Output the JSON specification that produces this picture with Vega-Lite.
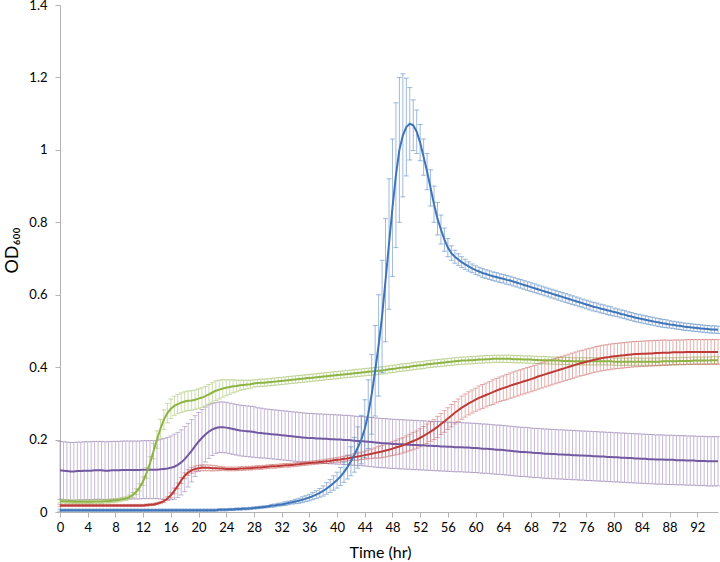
{
"$schema": "https://vega.github.io/schema/vega-lite/v6.json",
"width": 658, "height": 507,
"autosize": {"type": "none"},
"padding": {"left": 60, "top": 5, "right": 2, "bottom": 50},
"background": "white",
"config": {"view": {"stroke": null}, "font": "Lato",
 "axis": {"grid": false, "domainColor": "#B3B3B3", "tickColor": "#B3B3B3", "labelColor": "#000000", "labelFontSize": 13, "titleFontSize": 15, "titleFontWeight": "normal", "titleColor": "#000000", "labelFont": "Lato", "titleFont": "Lato"}},
"data": {"values": [
{"t":0,"b":0.005,"be":0.003,"r":0.018,"re":0.003,"g":0.030,"ge":0.005,"p":0.115,"pe":0.08},
{"t":0.5,"b":0.005,"be":0.003,"r":0.018,"re":0.003,"g":0.030,"ge":0.005,"p":0.114,"pe":0.08},
{"t":1,"b":0.005,"be":0.003,"r":0.018,"re":0.003,"g":0.029,"ge":0.005,"p":0.113,"pe":0.08},
{"t":1.5,"b":0.005,"be":0.003,"r":0.018,"re":0.003,"g":0.029,"ge":0.005,"p":0.112,"pe":0.08},
{"t":2,"b":0.005,"be":0.003,"r":0.018,"re":0.003,"g":0.028,"ge":0.005,"p":0.112,"pe":0.08},
{"t":2.5,"b":0.005,"be":0.003,"r":0.018,"re":0.003,"g":0.028,"ge":0.005,"p":0.113,"pe":0.08},
{"t":3,"b":0.005,"be":0.003,"r":0.018,"re":0.003,"g":0.028,"ge":0.005,"p":0.113,"pe":0.08},
{"t":3.5,"b":0.005,"be":0.003,"r":0.018,"re":0.003,"g":0.028,"ge":0.005,"p":0.114,"pe":0.08},
{"t":4,"b":0.005,"be":0.003,"r":0.018,"re":0.003,"g":0.028,"ge":0.005,"p":0.114,"pe":0.08},
{"t":4.5,"b":0.005,"be":0.003,"r":0.018,"re":0.003,"g":0.028,"ge":0.005,"p":0.114,"pe":0.08},
{"t":5,"b":0.005,"be":0.003,"r":0.018,"re":0.003,"g":0.029,"ge":0.005,"p":0.115,"pe":0.08},
{"t":5.5,"b":0.005,"be":0.003,"r":0.018,"re":0.003,"g":0.029,"ge":0.005,"p":0.115,"pe":0.08},
{"t":6,"b":0.005,"be":0.003,"r":0.018,"re":0.003,"g":0.029,"ge":0.005,"p":0.115,"pe":0.08},
{"t":6.5,"b":0.005,"be":0.003,"r":0.018,"re":0.003,"g":0.030,"ge":0.005,"p":0.114,"pe":0.08},
{"t":7,"b":0.005,"be":0.003,"r":0.018,"re":0.003,"g":0.030,"ge":0.005,"p":0.114,"pe":0.08},
{"t":7.5,"b":0.005,"be":0.003,"r":0.018,"re":0.003,"g":0.031,"ge":0.005,"p":0.115,"pe":0.08},
{"t":8,"b":0.005,"be":0.003,"r":0.018,"re":0.003,"g":0.032,"ge":0.005,"p":0.115,"pe":0.08},
{"t":8.5,"b":0.005,"be":0.003,"r":0.018,"re":0.003,"g":0.033,"ge":0.005,"p":0.115,"pe":0.08},
{"t":9,"b":0.005,"be":0.003,"r":0.018,"re":0.003,"g":0.035,"ge":0.005,"p":0.116,"pe":0.08},
{"t":9.5,"b":0.005,"be":0.003,"r":0.018,"re":0.003,"g":0.037,"ge":0.005,"p":0.116,"pe":0.08},
{"t":10,"b":0.005,"be":0.003,"r":0.018,"re":0.003,"g":0.041,"ge":0.006,"p":0.116,"pe":0.08},
{"t":10.5,"b":0.005,"be":0.003,"r":0.018,"re":0.003,"g":0.047,"ge":0.007,"p":0.116,"pe":0.08},
{"t":11,"b":0.005,"be":0.003,"r":0.018,"re":0.003,"g":0.056,"ge":0.008,"p":0.116,"pe":0.08},
{"t":11.5,"b":0.005,"be":0.003,"r":0.018,"re":0.003,"g":0.068,"ge":0.010,"p":0.116,"pe":0.08},
{"t":12,"b":0.005,"be":0.003,"r":0.018,"re":0.003,"g":0.085,"ge":0.012,"p":0.117,"pe":0.08},
{"t":12.5,"b":0.005,"be":0.003,"r":0.019,"re":0.003,"g":0.108,"ge":0.015,"p":0.117,"pe":0.08},
{"t":13,"b":0.005,"be":0.003,"r":0.020,"re":0.003,"g":0.135,"ge":0.018,"p":0.117,"pe":0.08},
{"t":13.5,"b":0.005,"be":0.003,"r":0.021,"re":0.003,"g":0.168,"ge":0.021,"p":0.117,"pe":0.08},
{"t":14,"b":0.005,"be":0.003,"r":0.023,"re":0.003,"g":0.200,"ge":0.024,"p":0.117,"pe":0.08},
{"t":14.5,"b":0.005,"be":0.003,"r":0.026,"re":0.003,"g":0.230,"ge":0.026,"p":0.118,"pe":0.082},
{"t":15,"b":0.005,"be":0.003,"r":0.030,"re":0.004,"g":0.255,"ge":0.027,"p":0.119,"pe":0.084},
{"t":15.5,"b":0.005,"be":0.003,"r":0.037,"re":0.005,"g":0.273,"ge":0.027,"p":0.120,"pe":0.086},
{"t":16,"b":0.005,"be":0.003,"r":0.046,"re":0.007,"g":0.285,"ge":0.027,"p":0.122,"pe":0.088},
{"t":16.5,"b":0.005,"be":0.003,"r":0.058,"re":0.008,"g":0.293,"ge":0.027,"p":0.125,"pe":0.09},
{"t":17,"b":0.005,"be":0.003,"r":0.072,"re":0.008,"g":0.298,"ge":0.027,"p":0.130,"pe":0.09},
{"t":17.5,"b":0.005,"be":0.003,"r":0.087,"re":0.008,"g":0.302,"ge":0.027,"p":0.137,"pe":0.09},
{"t":18,"b":0.005,"be":0.003,"r":0.100,"re":0.008,"g":0.305,"ge":0.027,"p":0.146,"pe":0.09},
{"t":18.5,"b":0.005,"be":0.003,"r":0.109,"re":0.008,"g":0.307,"ge":0.027,"p":0.157,"pe":0.088},
{"t":19,"b":0.005,"be":0.003,"r":0.115,"re":0.008,"g":0.308,"ge":0.027,"p":0.169,"pe":0.086},
{"t":19.5,"b":0.005,"be":0.003,"r":0.119,"re":0.008,"g":0.310,"ge":0.027,"p":0.182,"pe":0.084},
{"t":20,"b":0.005,"be":0.003,"r":0.121,"re":0.008,"g":0.313,"ge":0.027,"p":0.194,"pe":0.081},
{"t":20.5,"b":0.005,"be":0.003,"r":0.122,"re":0.008,"g":0.316,"ge":0.027,"p":0.205,"pe":0.078},
{"t":21,"b":0.005,"be":0.003,"r":0.122,"re":0.008,"g":0.320,"ge":0.027,"p":0.214,"pe":0.076},
{"t":21.5,"b":0.005,"be":0.003,"r":0.122,"re":0.008,"g":0.325,"ge":0.027,"p":0.222,"pe":0.074},
{"t":22,"b":0.005,"be":0.003,"r":0.121,"re":0.008,"g":0.330,"ge":0.027,"p":0.228,"pe":0.072},
{"t":22.5,"b":0.005,"be":0.003,"r":0.121,"re":0.007,"g":0.335,"ge":0.027,"p":0.232,"pe":0.07},
{"t":23,"b":0.006,"be":0.003,"r":0.120,"re":0.006,"g":0.338,"ge":0.026,"p":0.234,"pe":0.07},
{"t":23.5,"b":0.006,"be":0.003,"r":0.120,"re":0.005,"g":0.341,"ge":0.024,"p":0.234,"pe":0.07},
{"t":24,"b":0.006,"be":0.003,"r":0.119,"re":0.005,"g":0.343,"ge":0.022,"p":0.233,"pe":0.07},
{"t":24.5,"b":0.007,"be":0.003,"r":0.119,"re":0.005,"g":0.345,"ge":0.020,"p":0.231,"pe":0.07},
{"t":25,"b":0.007,"be":0.003,"r":0.119,"re":0.005,"g":0.347,"ge":0.018,"p":0.229,"pe":0.07},
{"t":25.5,"b":0.008,"be":0.003,"r":0.119,"re":0.005,"g":0.348,"ge":0.016,"p":0.227,"pe":0.07},
{"t":26,"b":0.008,"be":0.003,"r":0.120,"re":0.005,"g":0.350,"ge":0.014,"p":0.225,"pe":0.07},
{"t":26.5,"b":0.009,"be":0.003,"r":0.120,"re":0.005,"g":0.351,"ge":0.013,"p":0.224,"pe":0.07},
{"t":27,"b":0.009,"be":0.003,"r":0.121,"re":0.005,"g":0.352,"ge":0.012,"p":0.223,"pe":0.07},
{"t":27.5,"b":0.010,"be":0.003,"r":0.121,"re":0.005,"g":0.353,"ge":0.011,"p":0.222,"pe":0.07},
{"t":28,"b":0.011,"be":0.003,"r":0.122,"re":0.005,"g":0.355,"ge":0.010,"p":0.221,"pe":0.07},
{"t":28.5,"b":0.012,"be":0.003,"r":0.123,"re":0.005,"g":0.356,"ge":0.010,"p":0.219,"pe":0.069},
{"t":29,"b":0.013,"be":0.003,"r":0.123,"re":0.005,"g":0.357,"ge":0.010,"p":0.218,"pe":0.069},
{"t":29.5,"b":0.014,"be":0.003,"r":0.124,"re":0.005,"g":0.357,"ge":0.010,"p":0.217,"pe":0.068},
{"t":30,"b":0.015,"be":0.003,"r":0.125,"re":0.005,"g":0.358,"ge":0.010,"p":0.216,"pe":0.068},
{"t":30.5,"b":0.017,"be":0.004,"r":0.126,"re":0.005,"g":0.359,"ge":0.010,"p":0.215,"pe":0.068},
{"t":31,"b":0.018,"be":0.004,"r":0.126,"re":0.005,"g":0.360,"ge":0.010,"p":0.214,"pe":0.068},
{"t":31.5,"b":0.020,"be":0.004,"r":0.127,"re":0.005,"g":0.361,"ge":0.010,"p":0.213,"pe":0.068},
{"t":32,"b":0.021,"be":0.004,"r":0.128,"re":0.005,"g":0.362,"ge":0.010,"p":0.212,"pe":0.068},
{"t":32.5,"b":0.023,"be":0.005,"r":0.129,"re":0.005,"g":0.363,"ge":0.010,"p":0.211,"pe":0.068},
{"t":33,"b":0.025,"be":0.005,"r":0.129,"re":0.005,"g":0.364,"ge":0.010,"p":0.210,"pe":0.068},
{"t":33.5,"b":0.027,"be":0.005,"r":0.130,"re":0.005,"g":0.365,"ge":0.010,"p":0.209,"pe":0.068},
{"t":34,"b":0.029,"be":0.006,"r":0.131,"re":0.005,"g":0.366,"ge":0.010,"p":0.208,"pe":0.068},
{"t":34.5,"b":0.031,"be":0.007,"r":0.132,"re":0.005,"g":0.367,"ge":0.010,"p":0.207,"pe":0.068},
{"t":35,"b":0.034,"be":0.008,"r":0.133,"re":0.005,"g":0.368,"ge":0.010,"p":0.206,"pe":0.068},
{"t":35.5,"b":0.037,"be":0.008,"r":0.134,"re":0.005,"g":0.369,"ge":0.010,"p":0.205,"pe":0.068},
{"t":36,"b":0.040,"be":0.009,"r":0.135,"re":0.005,"g":0.370,"ge":0.010,"p":0.204,"pe":0.068},
{"t":36.5,"b":0.044,"be":0.010,"r":0.136,"re":0.005,"g":0.371,"ge":0.010,"p":0.204,"pe":0.068},
{"t":37,"b":0.048,"be":0.011,"r":0.137,"re":0.005,"g":0.372,"ge":0.010,"p":0.203,"pe":0.068},
{"t":37.5,"b":0.053,"be":0.012,"r":0.138,"re":0.005,"g":0.373,"ge":0.010,"p":0.203,"pe":0.068},
{"t":38,"b":0.058,"be":0.014,"r":0.139,"re":0.005,"g":0.374,"ge":0.010,"p":0.202,"pe":0.068},
{"t":38.5,"b":0.065,"be":0.016,"r":0.140,"re":0.006,"g":0.375,"ge":0.010,"p":0.202,"pe":0.068},
{"t":39,"b":0.072,"be":0.018,"r":0.141,"re":0.006,"g":0.376,"ge":0.010,"p":0.201,"pe":0.068},
{"t":39.5,"b":0.080,"be":0.020,"r":0.143,"re":0.006,"g":0.377,"ge":0.010,"p":0.201,"pe":0.068},
{"t":40,"b":0.088,"be":0.022,"r":0.144,"re":0.006,"g":0.378,"ge":0.010,"p":0.200,"pe":0.068},
{"t":40.5,"b":0.098,"be":0.025,"r":0.145,"re":0.007,"g":0.379,"ge":0.010,"p":0.200,"pe":0.068},
{"t":41,"b":0.110,"be":0.028,"r":0.147,"re":0.007,"g":0.380,"ge":0.010,"p":0.199,"pe":0.068},
{"t":41.5,"b":0.124,"be":0.033,"r":0.148,"re":0.007,"g":0.381,"ge":0.010,"p":0.199,"pe":0.068},
{"t":42,"b":0.140,"be":0.040,"r":0.150,"re":0.007,"g":0.382,"ge":0.010,"p":0.198,"pe":0.068},
{"t":42.5,"b":0.158,"be":0.048,"r":0.152,"re":0.009,"g":0.383,"ge":0.010,"p":0.197,"pe":0.068},
{"t":43,"b":0.178,"be":0.057,"r":0.153,"re":0.010,"g":0.384,"ge":0.010,"p":0.196,"pe":0.068},
{"t":43.5,"b":0.200,"be":0.067,"r":0.155,"re":0.010,"g":0.385,"ge":0.010,"p":0.196,"pe":0.068},
{"t":44,"b":0.230,"be":0.080,"r":0.157,"re":0.011,"g":0.386,"ge":0.010,"p":0.195,"pe":0.068},
{"t":44.5,"b":0.270,"be":0.095,"r":0.159,"re":0.012,"g":0.387,"ge":0.010,"p":0.194,"pe":0.068},
{"t":45,"b":0.325,"be":0.110,"r":0.161,"re":0.013,"g":0.388,"ge":0.010,"p":0.193,"pe":0.068},
{"t":45.5,"b":0.390,"be":0.125,"r":0.163,"re":0.014,"g":0.389,"ge":0.010,"p":0.192,"pe":0.068},
{"t":46,"b":0.460,"be":0.140,"r":0.165,"re":0.016,"g":0.390,"ge":0.010,"p":0.191,"pe":0.068},
{"t":46.5,"b":0.540,"be":0.155,"r":0.167,"re":0.017,"g":0.391,"ge":0.010,"p":0.190,"pe":0.068},
{"t":47,"b":0.640,"be":0.170,"r":0.170,"re":0.018,"g":0.392,"ge":0.010,"p":0.190,"pe":0.068},
{"t":47.5,"b":0.740,"be":0.180,"r":0.172,"re":0.018,"g":0.394,"ge":0.010,"p":0.189,"pe":0.068},
{"t":48,"b":0.840,"be":0.190,"r":0.175,"re":0.019,"g":0.395,"ge":0.010,"p":0.188,"pe":0.068},
{"t":48.5,"b":0.930,"be":0.200,"r":0.178,"re":0.020,"g":0.396,"ge":0.010,"p":0.188,"pe":0.068},
{"t":49,"b":1.000,"be":0.200,"r":0.181,"re":0.021,"g":0.398,"ge":0.010,"p":0.187,"pe":0.068},
{"t":49.5,"b":1.040,"be":0.170,"r":0.184,"re":0.021,"g":0.399,"ge":0.010,"p":0.187,"pe":0.068},
{"t":50,"b":1.063,"be":0.135,"r":0.188,"re":0.022,"g":0.400,"ge":0.010,"p":0.186,"pe":0.068},
{"t":50.5,"b":1.072,"be":0.100,"r":0.192,"re":0.023,"g":0.401,"ge":0.010,"p":0.186,"pe":0.068},
{"t":51,"b":1.068,"be":0.070,"r":0.196,"re":0.024,"g":0.403,"ge":0.010,"p":0.185,"pe":0.068},
{"t":51.5,"b":1.050,"be":0.060,"r":0.200,"re":0.024,"g":0.404,"ge":0.010,"p":0.185,"pe":0.068},
{"t":52,"b":1.020,"be":0.050,"r":0.205,"re":0.025,"g":0.405,"ge":0.010,"p":0.184,"pe":0.068},
{"t":52.5,"b":0.980,"be":0.050,"r":0.210,"re":0.026,"g":0.406,"ge":0.010,"p":0.184,"pe":0.068},
{"t":53,"b":0.940,"be":0.050,"r":0.216,"re":0.027,"g":0.408,"ge":0.010,"p":0.183,"pe":0.068},
{"t":53.5,"b":0.895,"be":0.050,"r":0.222,"re":0.027,"g":0.409,"ge":0.010,"p":0.183,"pe":0.068},
{"t":54,"b":0.850,"be":0.050,"r":0.228,"re":0.028,"g":0.410,"ge":0.010,"p":0.182,"pe":0.068},
{"t":54.5,"b":0.810,"be":0.045,"r":0.235,"re":0.029,"g":0.411,"ge":0.010,"p":0.182,"pe":0.068},
{"t":55,"b":0.780,"be":0.040,"r":0.243,"re":0.029,"g":0.412,"ge":0.010,"p":0.181,"pe":0.068},
{"t":55.5,"b":0.752,"be":0.032,"r":0.250,"re":0.030,"g":0.413,"ge":0.010,"p":0.181,"pe":0.068},
{"t":56,"b":0.730,"be":0.025,"r":0.258,"re":0.030,"g":0.414,"ge":0.010,"p":0.180,"pe":0.068},
{"t":56.5,"b":0.715,"be":0.020,"r":0.266,"re":0.031,"g":0.415,"ge":0.010,"p":0.180,"pe":0.068},
{"t":57,"b":0.705,"be":0.018,"r":0.274,"re":0.031,"g":0.416,"ge":0.010,"p":0.179,"pe":0.068},
{"t":57.5,"b":0.697,"be":0.016,"r":0.281,"re":0.031,"g":0.417,"ge":0.010,"p":0.179,"pe":0.068},
{"t":58,"b":0.690,"be":0.015,"r":0.288,"re":0.032,"g":0.418,"ge":0.010,"p":0.179,"pe":0.068},
{"t":58.5,"b":0.684,"be":0.014,"r":0.294,"re":0.032,"g":0.418,"ge":0.010,"p":0.178,"pe":0.068},
{"t":59,"b":0.678,"be":0.013,"r":0.300,"re":0.032,"g":0.419,"ge":0.010,"p":0.178,"pe":0.068},
{"t":59.5,"b":0.673,"be":0.012,"r":0.305,"re":0.032,"g":0.419,"ge":0.010,"p":0.177,"pe":0.068},
{"t":60,"b":0.668,"be":0.012,"r":0.310,"re":0.032,"g":0.420,"ge":0.010,"p":0.177,"pe":0.068},
{"t":60.5,"b":0.664,"be":0.012,"r":0.315,"re":0.033,"g":0.421,"ge":0.010,"p":0.176,"pe":0.068},
{"t":61,"b":0.660,"be":0.012,"r":0.319,"re":0.033,"g":0.421,"ge":0.010,"p":0.175,"pe":0.068},
{"t":61.5,"b":0.657,"be":0.012,"r":0.323,"re":0.033,"g":0.422,"ge":0.010,"p":0.175,"pe":0.068},
{"t":62,"b":0.654,"be":0.012,"r":0.327,"re":0.033,"g":0.422,"ge":0.010,"p":0.174,"pe":0.068},
{"t":62.5,"b":0.651,"be":0.012,"r":0.331,"re":0.034,"g":0.423,"ge":0.010,"p":0.173,"pe":0.068},
{"t":63,"b":0.649,"be":0.012,"r":0.335,"re":0.034,"g":0.423,"ge":0.010,"p":0.172,"pe":0.068},
{"t":63.5,"b":0.646,"be":0.012,"r":0.339,"re":0.034,"g":0.423,"ge":0.010,"p":0.172,"pe":0.068},
{"t":64,"b":0.644,"be":0.012,"r":0.342,"re":0.034,"g":0.423,"ge":0.010,"p":0.171,"pe":0.068},
{"t":64.5,"b":0.641,"be":0.012,"r":0.345,"re":0.035,"g":0.423,"ge":0.010,"p":0.170,"pe":0.068},
{"t":65,"b":0.639,"be":0.012,"r":0.349,"re":0.035,"g":0.423,"ge":0.010,"p":0.169,"pe":0.068},
{"t":65.5,"b":0.636,"be":0.012,"r":0.352,"re":0.035,"g":0.422,"ge":0.010,"p":0.168,"pe":0.068},
{"t":66,"b":0.633,"be":0.012,"r":0.355,"re":0.035,"g":0.422,"ge":0.010,"p":0.167,"pe":0.068},
{"t":66.5,"b":0.630,"be":0.012,"r":0.358,"re":0.035,"g":0.422,"ge":0.010,"p":0.166,"pe":0.068},
{"t":67,"b":0.627,"be":0.012,"r":0.361,"re":0.035,"g":0.421,"ge":0.010,"p":0.166,"pe":0.068},
{"t":67.5,"b":0.624,"be":0.012,"r":0.364,"re":0.035,"g":0.421,"ge":0.010,"p":0.165,"pe":0.068},
{"t":68,"b":0.621,"be":0.012,"r":0.367,"re":0.035,"g":0.421,"ge":0.010,"p":0.164,"pe":0.068},
{"t":68.5,"b":0.618,"be":0.012,"r":0.370,"re":0.035,"g":0.420,"ge":0.010,"p":0.163,"pe":0.068},
{"t":69,"b":0.615,"be":0.012,"r":0.374,"re":0.035,"g":0.420,"ge":0.010,"p":0.163,"pe":0.068},
{"t":69.5,"b":0.612,"be":0.012,"r":0.377,"re":0.035,"g":0.419,"ge":0.010,"p":0.162,"pe":0.068},
{"t":70,"b":0.609,"be":0.012,"r":0.380,"re":0.035,"g":0.419,"ge":0.010,"p":0.161,"pe":0.068},
{"t":70.5,"b":0.606,"be":0.012,"r":0.383,"re":0.035,"g":0.419,"ge":0.010,"p":0.161,"pe":0.068},
{"t":71,"b":0.603,"be":0.012,"r":0.386,"re":0.035,"g":0.418,"ge":0.010,"p":0.160,"pe":0.068},
{"t":71.5,"b":0.600,"be":0.012,"r":0.389,"re":0.035,"g":0.418,"ge":0.010,"p":0.160,"pe":0.068},
{"t":72,"b":0.597,"be":0.012,"r":0.392,"re":0.035,"g":0.418,"ge":0.010,"p":0.159,"pe":0.068},
{"t":72.5,"b":0.594,"be":0.012,"r":0.395,"re":0.035,"g":0.417,"ge":0.010,"p":0.159,"pe":0.068},
{"t":73,"b":0.591,"be":0.012,"r":0.398,"re":0.035,"g":0.417,"ge":0.010,"p":0.158,"pe":0.068},
{"t":73.5,"b":0.588,"be":0.012,"r":0.401,"re":0.035,"g":0.417,"ge":0.010,"p":0.158,"pe":0.068},
{"t":74,"b":0.585,"be":0.012,"r":0.404,"re":0.035,"g":0.416,"ge":0.010,"p":0.157,"pe":0.068},
{"t":74.5,"b":0.582,"be":0.012,"r":0.407,"re":0.035,"g":0.416,"ge":0.010,"p":0.157,"pe":0.068},
{"t":75,"b":0.579,"be":0.012,"r":0.410,"re":0.035,"g":0.416,"ge":0.010,"p":0.156,"pe":0.068},
{"t":75.5,"b":0.576,"be":0.012,"r":0.412,"re":0.035,"g":0.416,"ge":0.010,"p":0.156,"pe":0.068},
{"t":76,"b":0.573,"be":0.012,"r":0.415,"re":0.035,"g":0.416,"ge":0.010,"p":0.155,"pe":0.068},
{"t":76.5,"b":0.570,"be":0.012,"r":0.417,"re":0.035,"g":0.416,"ge":0.010,"p":0.155,"pe":0.068},
{"t":77,"b":0.567,"be":0.012,"r":0.420,"re":0.035,"g":0.416,"ge":0.010,"p":0.154,"pe":0.068},
{"t":77.5,"b":0.565,"be":0.012,"r":0.422,"re":0.035,"g":0.416,"ge":0.010,"p":0.154,"pe":0.068},
{"t":78,"b":0.562,"be":0.012,"r":0.424,"re":0.035,"g":0.416,"ge":0.010,"p":0.153,"pe":0.068},
{"t":78.5,"b":0.560,"be":0.012,"r":0.426,"re":0.035,"g":0.416,"ge":0.010,"p":0.153,"pe":0.068},
{"t":79,"b":0.557,"be":0.012,"r":0.427,"re":0.035,"g":0.416,"ge":0.010,"p":0.152,"pe":0.068},
{"t":79.5,"b":0.555,"be":0.012,"r":0.429,"re":0.035,"g":0.416,"ge":0.010,"p":0.152,"pe":0.068},
{"t":80,"b":0.552,"be":0.011,"r":0.430,"re":0.035,"g":0.415,"ge":0.010,"p":0.151,"pe":0.068},
{"t":80.5,"b":0.550,"be":0.011,"r":0.431,"re":0.035,"g":0.415,"ge":0.010,"p":0.151,"pe":0.068},
{"t":81,"b":0.547,"be":0.011,"r":0.432,"re":0.035,"g":0.415,"ge":0.010,"p":0.150,"pe":0.068},
{"t":81.5,"b":0.545,"be":0.011,"r":0.433,"re":0.035,"g":0.415,"ge":0.010,"p":0.150,"pe":0.068},
{"t":82,"b":0.542,"be":0.011,"r":0.434,"re":0.035,"g":0.415,"ge":0.010,"p":0.149,"pe":0.068},
{"t":82.5,"b":0.540,"be":0.011,"r":0.435,"re":0.035,"g":0.415,"ge":0.010,"p":0.149,"pe":0.068},
{"t":83,"b":0.537,"be":0.011,"r":0.436,"re":0.035,"g":0.415,"ge":0.010,"p":0.148,"pe":0.068},
{"t":83.5,"b":0.535,"be":0.011,"r":0.436,"re":0.035,"g":0.415,"ge":0.010,"p":0.148,"pe":0.068},
{"t":84,"b":0.533,"be":0.011,"r":0.437,"re":0.035,"g":0.415,"ge":0.010,"p":0.147,"pe":0.068},
{"t":84.5,"b":0.531,"be":0.011,"r":0.437,"re":0.035,"g":0.415,"ge":0.010,"p":0.147,"pe":0.068},
{"t":85,"b":0.529,"be":0.011,"r":0.438,"re":0.035,"g":0.415,"ge":0.010,"p":0.146,"pe":0.068},
{"t":85.5,"b":0.527,"be":0.011,"r":0.438,"re":0.035,"g":0.415,"ge":0.010,"p":0.146,"pe":0.068},
{"t":86,"b":0.525,"be":0.011,"r":0.439,"re":0.035,"g":0.415,"ge":0.010,"p":0.145,"pe":0.068},
{"t":86.5,"b":0.523,"be":0.011,"r":0.439,"re":0.035,"g":0.415,"ge":0.010,"p":0.145,"pe":0.068},
{"t":87,"b":0.521,"be":0.011,"r":0.440,"re":0.035,"g":0.416,"ge":0.010,"p":0.145,"pe":0.068},
{"t":87.5,"b":0.520,"be":0.011,"r":0.440,"re":0.035,"g":0.416,"ge":0.010,"p":0.144,"pe":0.068},
{"t":88,"b":0.518,"be":0.010,"r":0.440,"re":0.034,"g":0.416,"ge":0.010,"p":0.144,"pe":0.068},
{"t":88.5,"b":0.517,"be":0.010,"r":0.441,"re":0.034,"g":0.416,"ge":0.010,"p":0.144,"pe":0.068},
{"t":89,"b":0.515,"be":0.010,"r":0.441,"re":0.034,"g":0.416,"ge":0.010,"p":0.143,"pe":0.068},
{"t":89.5,"b":0.514,"be":0.010,"r":0.441,"re":0.034,"g":0.417,"ge":0.010,"p":0.143,"pe":0.068},
{"t":90,"b":0.512,"be":0.010,"r":0.441,"re":0.034,"g":0.417,"ge":0.010,"p":0.143,"pe":0.068},
{"t":90.5,"b":0.511,"be":0.010,"r":0.442,"re":0.034,"g":0.417,"ge":0.010,"p":0.142,"pe":0.068},
{"t":91,"b":0.510,"be":0.010,"r":0.442,"re":0.034,"g":0.417,"ge":0.010,"p":0.142,"pe":0.068},
{"t":91.5,"b":0.509,"be":0.010,"r":0.442,"re":0.034,"g":0.418,"ge":0.010,"p":0.142,"pe":0.068},
{"t":92,"b":0.508,"be":0.010,"r":0.442,"re":0.034,"g":0.418,"ge":0.010,"p":0.141,"pe":0.068},
{"t":92.5,"b":0.507,"be":0.010,"r":0.442,"re":0.034,"g":0.418,"ge":0.010,"p":0.141,"pe":0.068},
{"t":93,"b":0.506,"be":0.010,"r":0.442,"re":0.034,"g":0.418,"ge":0.010,"p":0.141,"pe":0.068},
{"t":93.5,"b":0.505,"be":0.010,"r":0.442,"re":0.034,"g":0.418,"ge":0.010,"p":0.140,"pe":0.068},
{"t":94,"b":0.504,"be":0.010,"r":0.442,"re":0.034,"g":0.419,"ge":0.010,"p":0.140,"pe":0.068},
{"t":94.5,"b":0.504,"be":0.010,"r":0.442,"re":0.034,"g":0.419,"ge":0.010,"p":0.140,"pe":0.068},
{"t":95,"b":0.503,"be":0.010,"r":0.442,"re":0.034,"g":0.419,"ge":0.010,"p":0.140,"pe":0.068}
]},
"encoding": {
 "x": {"field": "t", "type": "quantitative", "scale": {"domain": [0, 95], "nice": false},
  "axis": {"title": "Time (hr)", "values": [0,4,8,12,16,20,24,28,32,36,40,44,48,52,56,60,64,68,72,76,80,84,88,92], "tickSize": 5, "labelPadding": 4, "titleX": 320, "titleY": 40, "titleBaseline": "middle", "titleFontSize": 16, "labelFlush": false}}
},
"layer": [
 {"mark": {"type": "errorbar", "ticks": {"size": 5}, "thickness": 1, "color": "#8064A2", "opacity": 0.45},
  "encoding": {"y": {"field": "p", "type": "quantitative", "scale": {"domain": [0, 1.4], "nice": false},
   "axis": {"title": "OD₆₀₀", "values": [0,0.2,0.4,0.6,0.8,1,1.2,1.4], "format": ".1~f", "tickSize": 5, "labelPadding": 8, "titleX": -48, "titleY": 245, "titleBaseline": "middle", "titleFontSize": 18}},
   "yError": {"field": "pe"}}},
 {"mark": {"type": "errorbar", "ticks": {"size": 5}, "thickness": 1, "color": "#9BBB59", "opacity": 0.5},
  "encoding": {"y": {"field": "g", "type": "quantitative", "scale": {"domain": [0, 1.4], "nice": false},
   "axis": {"title": "OD₆₀₀", "values": [0,0.2,0.4,0.6,0.8,1,1.2,1.4], "format": ".1~f", "tickSize": 5, "labelPadding": 8, "titleX": -48, "titleY": 245, "titleBaseline": "middle", "titleFontSize": 18}},
   "yError": {"field": "ge"}}},
 {"mark": {"type": "errorbar", "ticks": {"size": 5}, "thickness": 1, "color": "#C0504D", "opacity": 0.45},
  "encoding": {"y": {"field": "r", "type": "quantitative", "scale": {"domain": [0, 1.4], "nice": false},
   "axis": {"title": "OD₆₀₀", "values": [0,0.2,0.4,0.6,0.8,1,1.2,1.4], "format": ".1~f", "tickSize": 5, "labelPadding": 8, "titleX": -48, "titleY": 245, "titleBaseline": "middle", "titleFontSize": 18}},
   "yError": {"field": "re"}}},
 {"mark": {"type": "errorbar", "ticks": {"size": 5}, "thickness": 1, "color": "#4F81BD", "opacity": 0.55},
  "encoding": {"y": {"field": "b", "type": "quantitative", "scale": {"domain": [0, 1.4], "nice": false},
   "axis": {"title": "OD₆₀₀", "values": [0,0.2,0.4,0.6,0.8,1,1.2,1.4], "format": ".1~f", "tickSize": 5, "labelPadding": 8, "titleX": -48, "titleY": 245, "titleBaseline": "middle", "titleFontSize": 18}},
   "yError": {"field": "be"}}},
 {"mark": {"type": "line", "color": "#7158A0", "strokeWidth": 2},
  "encoding": {"y": {"field": "p", "type": "quantitative", "scale": {"domain": [0, 1.4], "nice": false},
   "axis": {"title": "OD₆₀₀", "values": [0,0.2,0.4,0.6,0.8,1,1.2,1.4], "format": ".1~f", "tickSize": 5, "labelPadding": 8, "titleX": -48, "titleY": 245, "titleBaseline": "middle", "titleFontSize": 18}}}},
 {"mark": {"type": "line", "color": "#8DB443", "strokeWidth": 2},
  "encoding": {"y": {"field": "g", "type": "quantitative", "scale": {"domain": [0, 1.4], "nice": false},
   "axis": {"title": "OD₆₀₀", "values": [0,0.2,0.4,0.6,0.8,1,1.2,1.4], "format": ".1~f", "tickSize": 5, "labelPadding": 8, "titleX": -48, "titleY": 245, "titleBaseline": "middle", "titleFontSize": 18}}}},
 {"mark": {"type": "line", "color": "#BE3A36", "strokeWidth": 2},
  "encoding": {"y": {"field": "r", "type": "quantitative", "scale": {"domain": [0, 1.4], "nice": false},
   "axis": {"title": "OD₆₀₀", "values": [0,0.2,0.4,0.6,0.8,1,1.2,1.4], "format": ".1~f", "tickSize": 5, "labelPadding": 8, "titleX": -48, "titleY": 245, "titleBaseline": "middle", "titleFontSize": 18}}}},
 {"mark": {"type": "line", "color": "#3F74B8", "strokeWidth": 2},
  "encoding": {"y": {"field": "b", "type": "quantitative", "scale": {"domain": [0, 1.4], "nice": false},
   "axis": {"title": "OD₆₀₀", "values": [0,0.2,0.4,0.6,0.8,1,1.2,1.4], "format": ".1~f", "tickSize": 5, "labelPadding": 8, "titleX": -48, "titleY": 245, "titleBaseline": "middle", "titleFontSize": 18}}}}
]
}
